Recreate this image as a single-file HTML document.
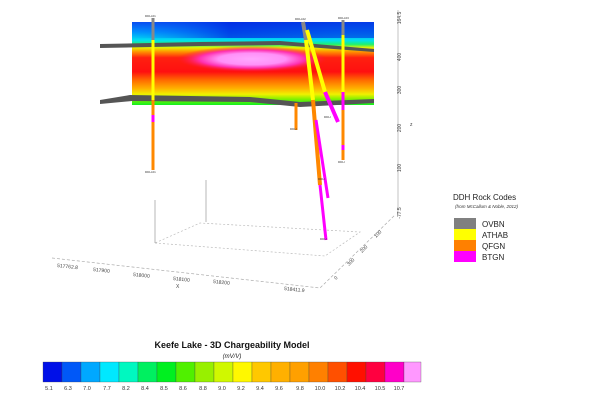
<!DOCTYPE html>
<html><head><meta charset="utf-8"><style>
html,body{margin:0;padding:0;background:#fff;}
svg{display:block;font-family:"Liberation Sans",sans-serif;}
</style></head><body>
<svg width="602" height="401" viewBox="0 0 602 401">
<defs>
<linearGradient id="vg" x1="0" y1="22" x2="0" y2="105" gradientUnits="userSpaceOnUse">
<stop offset="0" stop-color="#0a4cf0"/>
<stop offset="0.12" stop-color="#0090ff"/>
<stop offset="0.22" stop-color="#00e0f0"/>
<stop offset="0.27" stop-color="#20f070"/>
<stop offset="0.31" stop-color="#e8f000"/>
<stop offset="0.36" stop-color="#ff9000"/>
<stop offset="0.43" stop-color="#ff2010"/>
<stop offset="0.6" stop-color="#ff1010"/>
<stop offset="0.7" stop-color="#ff6a00"/>
<stop offset="0.8" stop-color="#ffb000"/>
<stop offset="0.87" stop-color="#f0f000"/>
<stop offset="0.93" stop-color="#80f000"/>
<stop offset="1" stop-color="#10f020"/>
</linearGradient>
<radialGradient id="rg" cx="0.5" cy="0.5" r="0.5">
<stop offset="0" stop-color="#ffa8ff"/>
<stop offset="0.45" stop-color="#ff90f8"/>
<stop offset="0.7" stop-color="#ff30b0"/>
<stop offset="1" stop-color="#ff1030" stop-opacity="0"/>
</radialGradient>
<linearGradient id="tb" x1="0" y1="0" x2="1" y2="0">
<stop offset="0" stop-color="#0a60f0" stop-opacity="0"/>
<stop offset="0.4" stop-color="#0020e0" stop-opacity="0.7"/>
<stop offset="0.9" stop-color="#0030e0" stop-opacity="0.6"/>
</linearGradient>
</defs>
<rect x="132" y="22" width="242" height="83" fill="url(#vg)"/>
<rect x="132" y="22" width="242" height="16" fill="url(#tb)"/>
<ellipse cx="252" cy="59" rx="75" ry="13" fill="url(#rg)"/>
<path d="M100,44 L200,42 L280,41 L374,49 L374,52 L280,45 L200,46 L100,48Z" fill="#555"/>
<path d="M100,100 L130,95 L250,97 L300,102 L374,99 L374,103 L300,107 L250,102 L132,101 L100,104Z" fill="#555"/>
<g stroke="#aaa" stroke-width="0.7" fill="none">
<line x1="398" y1="10" x2="398" y2="215"/>
<path d="M52,258 L320,288 L395,215" stroke-dasharray="3,2"/>
<path d="M155,243 L325,256 L360,232 L200,223 Z" stroke-dasharray="2,2" stroke="#bbb"/>
<line x1="155" y1="200" x2="155" y2="243" stroke="#999"/>
<line x1="206" y1="180" x2="206" y2="222" stroke="#999"/>
</g>
<g font-size="5" fill="#444">
<text x="401" y="18" transform="rotate(-90 401 18)" text-anchor="middle">164.5</text>
<text x="401" y="57" transform="rotate(-90 401 57)" text-anchor="middle">400</text>
<text x="401" y="90" transform="rotate(-90 401 90)" text-anchor="middle">300</text>
<text x="401" y="128" transform="rotate(-90 401 128)" text-anchor="middle">200</text>
<text x="401" y="168" transform="rotate(-90 401 168)" text-anchor="middle">100</text>
<text x="401" y="213" transform="rotate(-90 401 213)" text-anchor="middle">-77.5</text>
<text x="410" y="126">z</text>
<text x="57" y="267" transform="rotate(6 57 267)">517762.8</text>
<text x="93" y="271" transform="rotate(6 93 271)">517900</text>
<text x="133" y="276" transform="rotate(6 133 276)">518000</text>
<text x="173" y="280" transform="rotate(6 173 280)">518100</text>
<text x="176" y="288">X</text>
<text x="213" y="283" transform="rotate(6 213 283)">518200</text>
<text x="284" y="290" transform="rotate(6 284 290)">518411.9</text>
<text x="336" y="280" transform="rotate(-45 336 280)">0</text>
<text x="349" y="266" transform="rotate(-45 349 266)">300</text>
<text x="362" y="253" transform="rotate(-45 362 253)">200</text>
<text x="376" y="238" transform="rotate(-45 376 238)">100</text>
</g>
<g stroke-width="3" stroke-linecap="butt">
<line x1="153" y1="18" x2="153" y2="40" stroke="#888"/>
<line x1="153" y1="40" x2="153" y2="100" stroke="#ff0"/>
<line x1="153" y1="100" x2="153" y2="170" stroke="#f80"/>
<line x1="153" y1="115" x2="153" y2="122" stroke="#f0f"/>
<line x1="296" y1="103" x2="296" y2="130" stroke="#f80"/>
<line x1="343" y1="20" x2="343" y2="35" stroke="#888"/>
<line x1="343" y1="35" x2="343" y2="95" stroke="#ff0"/>
<line x1="343" y1="95" x2="343" y2="160" stroke="#f80"/>
<line x1="343" y1="92" x2="343" y2="110" stroke="#f0f"/>
<line x1="343" y1="145" x2="343" y2="150" stroke="#f0f"/>
<line x1="303" y1="22" x2="306" y2="40" stroke="#888" stroke-width="4"/>
<line x1="306" y1="40" x2="313" y2="100" stroke="#ff0" stroke-width="4"/>
<line x1="313" y1="100" x2="320" y2="185" stroke="#f80" stroke-width="4"/>
<line x1="320" y1="185" x2="326" y2="240" stroke="#f0f" stroke-width="3"/>
<line x1="316" y1="120" x2="328" y2="198" stroke="#f0f" stroke-width="3"/>
<line x1="307" y1="30" x2="325" y2="92" stroke="#ff0" stroke-width="4"/>
<line x1="325" y1="92" x2="338" y2="122" stroke="#f0f" stroke-width="4"/>
</g>
<g font-size="3" fill="#333">
<text x="145" y="17">DDH-01</text><text x="145" y="173">DDH-01</text>
<text x="295" y="20">DDH-02</text><text x="338" y="19">DDH-03</text>
<text x="290" y="130">DDH</text><text x="338" y="163">DDH</text>
<text x="318" y="180">DDH</text><text x="320" y="240">DDH</text>
<text x="324" y="118">DDH</text>
</g>
<text x="453" y="200" font-size="8" fill="#222">DDH Rock Codes</text>
<text x="455" y="208" font-size="4.5" font-style="italic" fill="#333">(from  McCallum &amp; Noble, 2012)</text>
<rect x="454" y="218" width="22" height="11" fill="#808080"/>
<rect x="454" y="229" width="22" height="11" fill="#ffff00"/>
<rect x="454" y="240" width="22" height="11" fill="#ff8000"/>
<rect x="454" y="251" width="22" height="11" fill="#ff00ff"/>
<g font-size="8" fill="#222">
<text x="482" y="227">OVBN</text><text x="482" y="238">ATHAB</text>
<text x="482" y="249">QFGN</text><text x="482" y="260">BTGN</text>
</g>
<text x="232" y="348" font-size="9" font-weight="bold" text-anchor="middle" fill="#111">Keefe Lake - 3D Chargeability Model</text>
<text x="232" y="358" font-size="6" font-style="italic" text-anchor="middle" fill="#222">(mV/V)</text>
<g stroke="#444" stroke-width="0.3">
<rect x="43" y="362" width="19" height="20" fill="#0010e8"/>
<rect x="62" y="362" width="19" height="20" fill="#0058f8"/>
<rect x="81" y="362" width="19" height="20" fill="#00a8ff"/>
<rect x="100" y="362" width="19" height="20" fill="#00e8ff"/>
<rect x="119" y="362" width="19" height="20" fill="#00f8c0"/>
<rect x="138" y="362" width="19" height="20" fill="#00f060"/>
<rect x="157" y="362" width="19" height="20" fill="#00f020"/>
<rect x="176" y="362" width="19" height="20" fill="#50f000"/>
<rect x="195" y="362" width="19" height="20" fill="#98f000"/>
<rect x="214" y="362" width="19" height="20" fill="#d0f800"/>
<rect x="233" y="362" width="19" height="20" fill="#fff800"/>
<rect x="252" y="362" width="19" height="20" fill="#ffc800"/>
<rect x="271" y="362" width="19" height="20" fill="#ffb000"/>
<rect x="290" y="362" width="19" height="20" fill="#ffa000"/>
<rect x="309" y="362" width="19" height="20" fill="#ff8000"/>
<rect x="328" y="362" width="19" height="20" fill="#ff5000"/>
<rect x="347" y="362" width="19" height="20" fill="#ff1000"/>
<rect x="366" y="362" width="19" height="20" fill="#ff0040"/>
<rect x="385" y="362" width="19" height="20" fill="#ff00c8"/>
<rect x="404" y="362" width="17" height="20" fill="#ff98ff"/>
</g>
<g font-size="5.5" fill="#333" text-anchor="middle">
<text x="49" y="390">5.1</text><text x="68" y="390">6.3</text><text x="87" y="390">7.0</text>
<text x="107" y="390">7.7</text><text x="126" y="390">8.2</text><text x="145" y="390">8.4</text>
<text x="164" y="390">8.5</text><text x="183" y="390">8.6</text><text x="203" y="390">8.8</text>
<text x="222" y="390">9.0</text><text x="241" y="390">9.2</text><text x="260" y="390">9.4</text>
<text x="279" y="390">9.6</text><text x="300" y="390">9.8</text><text x="320" y="390">10.0</text>
<text x="340" y="390">10.2</text><text x="360" y="390">10.4</text><text x="380" y="390">10.5</text>
<text x="399" y="390">10.7</text>
</g>
</svg>
</body></html>
